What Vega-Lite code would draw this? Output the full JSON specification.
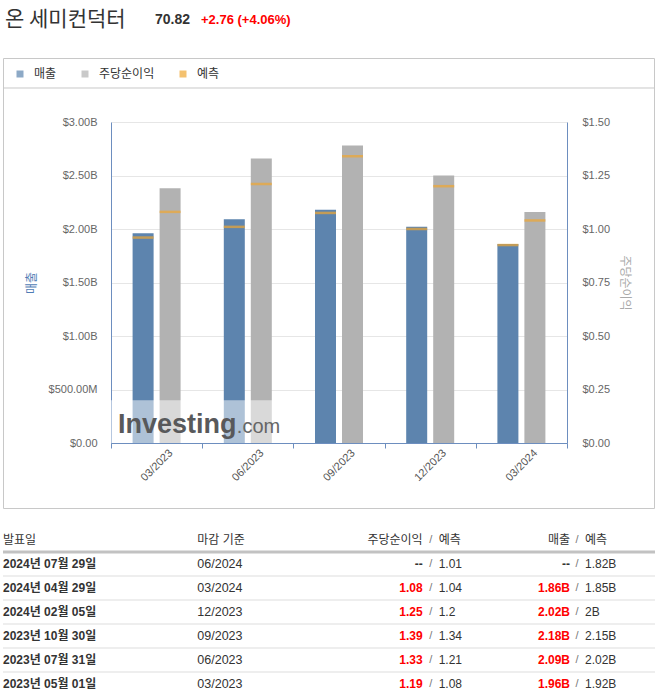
{
  "$schema": "https://vega.github.io/schema/vega-lite/v6.json",
  "padding": {"left": -2, "top": 0, "right": 0, "bottom": 0},
  "spacing": 18,
  "bounds": "flush",
  "config": {
    "view": {"stroke": null},
    "font": "Liberation Sans, Noto Sans CJK KR"
  },
  "resolve": {"legend": {"color": "independent"}, "scale": {"color": "independent"}},
  "datasets": {
    "quote": [{"name": "온 세미컨덕터", "price": "70.82", "change": "+2.76 (+4.06%)"}],
    "quarters": [
      {"period": "03/2023", "series": "매출", "actual": 1960000000, "forecast": 1920000000},
      {"period": "03/2023", "series": "주당순이익", "actual": 1.19, "forecast": 1.08},
      {"period": "06/2023", "series": "매출", "actual": 2090000000, "forecast": 2020000000},
      {"period": "06/2023", "series": "주당순이익", "actual": 1.33, "forecast": 1.21},
      {"period": "09/2023", "series": "매출", "actual": 2180000000, "forecast": 2150000000},
      {"period": "09/2023", "series": "주당순이익", "actual": 1.39, "forecast": 1.34},
      {"period": "12/2023", "series": "매출", "actual": 2020000000, "forecast": 2000000000},
      {"period": "12/2023", "series": "주당순이익", "actual": 1.25, "forecast": 1.2},
      {"period": "03/2024", "series": "매출", "actual": 1860000000, "forecast": 1850000000},
      {"period": "03/2024", "series": "주당순이익", "actual": 1.08, "forecast": 1.04}
    ],
    "earnings": [
      {"date": "2024년 07월 29일", "period": "06/2024", "eps": "--", "eps_est": "1.01", "rev": "--", "rev_est": "1.82B"},
      {"date": "2024년 04월 29일", "period": "03/2024", "eps": "1.08", "eps_est": "1.04", "rev": "1.86B", "rev_est": "1.85B"},
      {"date": "2024년 02월 05일", "period": "12/2023", "eps": "1.25", "eps_est": "1.2", "rev": "2.02B", "rev_est": "2B"},
      {"date": "2023년 10월 30일", "period": "09/2023", "eps": "1.39", "eps_est": "1.34", "rev": "2.18B", "rev_est": "2.15B"},
      {"date": "2023년 07월 31일", "period": "06/2023", "eps": "1.33", "eps_est": "1.21", "rev": "2.09B", "rev_est": "2.02B"},
      {"date": "2023년 05월 01일", "period": "03/2023", "eps": "1.19", "eps_est": "1.08", "rev": "1.96B", "rev_est": "1.92B"}
    ]
  },
  "vconcat": [
    {
      "width": 660,
      "height": 40,
      "data": {"name": "quote"},
      "layer": [
        {
          "mark": {"type": "text", "align": "left", "fontSize": 21, "color": "#333333", "font": "Noto Sans CJK KR"},
          "encoding": {
            "x": {"datum": "name", "type": "nominal", "scale": {"type": "point", "domain": ["name", "price", "change"], "range": [2, 198], "padding": 0}, "axis": null},
            "text": {"field": "name"}
          }
        },
        {
          "mark": {"type": "text", "align": "left", "fontSize": 14, "fontWeight": "bold", "color": "#333333", "dx": 52},
          "encoding": {
            "x": {"datum": "price", "type": "nominal"},
            "text": {"field": "price"}
          }
        },
        {
          "mark": {"type": "text", "align": "left", "fontSize": 13, "fontWeight": "bold", "color": "#ff0000"},
          "encoding": {
            "x": {"datum": "change", "type": "nominal"},
            "text": {"field": "change"}
          }
        }
      ]
    },
    {
      "width": 651,
      "height": 450,
      "view": {"stroke": "#c8c8c8"},
      "data": {"name": "quarters"},
      "layer": [
        {
          "transform": [{"filter": "datum.series === '주당순이익'"}],
          "layer": [
            {
              "mark": {"type": "bar"},
              "encoding": {
                "x": {
                  "field": "period", "type": "nominal",
                  "scale": {"domain": ["03/2023", "06/2023", "09/2023", "12/2023", "03/2024"], "range": [108, 564], "paddingInner": 0, "paddingOuter": 0},
                  "axis": {"orient": "bottom", "offset": -65, "title": null, "labelAngle": -45, "labelAlign": "right", "labelBaseline": "middle", "labelOffset": 14, "labelPadding": 3, "tickBand": "extent", "tickSize": 5, "tickColor": "#6d8ebf", "domainColor": "#6d8ebf", "labelColor": "#555555", "labelFontSize": 11, "grid": false}
                },
                "xOffset": {"field": "series", "type": "nominal", "scale": {"domain": ["매출", "주당순이익"], "paddingInner": 0.222, "paddingOuter": 0.8}},
                "y": {
                  "field": "actual", "type": "quantitative",
                  "scale": {"domain": [0, 1.5], "range": [385, 64], "nice": false},
                  "axis": {"orient": "right", "offset": -87, "title": "주당순이익", "titleAngle": 90, "titleColor": "#aaaaaa", "titleFont": "Noto Sans CJK KR", "titleFontSize": 12, "titleFontWeight": "normal", "titlePadding": 8, "values": [0, 0.25, 0.5, 0.75, 1, 1.25, 1.5], "labelExpr": "'$' + format(datum.value, '.2f')", "ticks": false, "labelPadding": 15, "domainColor": "#6d8ebf", "labelColor": "#666666", "labelFontSize": 11, "grid": false}
                },
                "color": {
                  "field": "series", "type": "nominal",
                  "scale": {"domain": ["매출", "주당순이익", "예측"], "range": ["#5d84ae", "#b2b2b2", "#f0a732"]},
                  "legend": {"orient": "none", "direction": "horizontal", "legendX": 11, "legendY": 10, "title": null, "symbolType": "square", "symbolSize": 49, "symbolStrokeWidth": 0, "labelFontSize": 12, "labelColor": "#333333", "labelFont": "Noto Sans CJK KR", "columnPadding": 22, "labelOffset": 8, "padding": 0}
                }
              }
            },
            {
              "mark": {"type": "tick", "thickness": 2.5, "size": 21},
              "encoding": {
                "x": {"field": "period", "type": "nominal"},
                "xOffset": {"field": "series", "type": "nominal"},
                "y": {"field": "forecast", "type": "quantitative"},
                "color": {"datum": "예측"}
              }
            }
          ]
        },
        {
          "layer": [
            {
              "transform": [{"filter": "datum.series === '매출'"}],
              "mark": {"type": "bar"},
              "encoding": {
                "x": {"field": "period", "type": "nominal"},
                "xOffset": {"field": "series", "type": "nominal"},
                "y": {
                  "field": "actual", "type": "quantitative",
                  "scale": {"domain": [0, 3000000000], "range": [385, 64], "nice": false},
                  "axis": {"orient": "left", "offset": -108, "title": "매출", "titleColor": "#4f7cb5", "titleFont": "Noto Sans CJK KR", "titleFontSize": 12, "titleFontWeight": "normal", "titlePadding": 10, "values": [0, 500000000, 1000000000, 1500000000, 2000000000, 2500000000, 3000000000], "labelExpr": "datum.value >= 1e9 ? '$' + format(datum.value / 1e9, '.2f') + 'B' : datum.value > 0 ? '$' + format(datum.value / 1e6, '.2f') + 'M' : '$0.00'", "ticks": false, "labelPadding": 14, "domainColor": "#6d8ebf", "labelColor": "#666666", "labelFontSize": 11, "grid": true, "gridColor": "#e6e6e6"}
                },
                "color": {"field": "series", "type": "nominal"}
              }
            },
            {
              "transform": [{"filter": "datum.series === '매출'"}],
              "mark": {"type": "tick", "thickness": 2.5, "size": 21},
              "encoding": {
                "x": {"field": "period", "type": "nominal"},
                "xOffset": {"field": "series", "type": "nominal"},
                "y": {"field": "forecast", "type": "quantitative"},
                "color": {"datum": "예측"}
              }
            },
            {
              "data": {"values": [{}]},
              "mark": {"type": "rule", "color": "#c8c8c8", "strokeWidth": 1},
              "encoding": {"y": {"datum": 3317800000, "type": "quantitative"}}
            },
            {
              "data": {"values": [{}]},
              "mark": {"type": "rect", "fill": "#ffffff", "opacity": 0.5},
              "encoding": {
                "x": {"datum": "03/2023", "type": "nominal", "bandPosition": 0},
                "x2": {"datum": "06/2023", "bandPosition": 0.9},
                "y": {"datum": 0, "type": "quantitative"},
                "y2": {"datum": 400000000}
              }
            },
            {
              "data": {"values": [{}]},
              "mark": {"type": "text", "text": "Investing", "align": "left", "baseline": "alphabetic", "fontSize": 27, "fontWeight": "bold", "font": "Liberation Sans", "color": "#58595b"},
              "encoding": {
                "x": {"datum": "03/2023", "type": "nominal", "bandPosition": 0.077},
                "y": {"datum": 93500000, "type": "quantitative"}
              }
            },
            {
              "data": {"values": [{}]},
              "mark": {"type": "text", "text": ".com", "align": "left", "baseline": "alphabetic", "fontSize": 20, "font": "Liberation Sans", "color": "#666666"},
              "encoding": {
                "x": {"datum": "06/2023", "type": "nominal", "bandPosition": 0.38},
                "y": {"datum": 93500000, "type": "quantitative"}
              }
            }
          ]
        }
      ],
      "resolve": {"scale": {"y": "independent"}}
    },
    {
      "width": 652,
      "height": 169,
      "data": {"name": "earnings"},
      "layer": [
        {
          "mark": {"type": "rule", "color": "#dddddd", "strokeWidth": 1},
          "encoding": {
            "y": {
              "field": "date", "type": "nominal", "bandPosition": 0,
              "scale": {"type": "band", "domain": ["header", "2024년 07월 29일", "2024년 04월 29일", "2024년 02월 05일", "2023년 10월 30일", "2023년 07월 31일", "2023년 05월 01일"], "range": [2, 170], "paddingInner": 0, "paddingOuter": 0},
              "axis": null
            }
          }
        },
        {
          "data": {"values": [{}]},
          "mark": {"type": "rule", "color": "#c2c2c2", "strokeWidth": 3},
          "encoding": {"y": {"datum": "header", "type": "nominal", "bandPosition": 1}}
        },
        {
          "mark": {"type": "text", "align": "left", "fontSize": 12, "fontWeight": "bold", "color": "#333333"},
          "encoding": {
            "x": {"datum": "발표일", "type": "nominal", "scale": {"type": "point", "domain": ["발표일", "마감 기준", "주당순이익", "매출"], "range": [0, 574], "padding": 0}, "axis": null},
            "y": {"field": "date", "type": "nominal"},
            "text": {"field": "date"}
          }
        },
        {
          "mark": {"type": "text", "align": "left", "fontSize": 12.5, "color": "#333333", "dx": 3},
          "encoding": {
            "x": {"datum": "마감 기준", "type": "nominal"},
            "y": {"field": "date", "type": "nominal"},
            "text": {"field": "period"}
          }
        },
        {
          "mark": {"type": "text", "align": "right", "fontSize": 12, "fontWeight": "bold", "dx": 37},
          "encoding": {
            "x": {"datum": "주당순이익", "type": "nominal"},
            "y": {"field": "date", "type": "nominal"},
            "text": {"field": "eps"},
            "color": {"condition": {"test": "datum.eps === '--'", "value": "#333333"}, "value": "#ff0000"}
          }
        },
        {
          "mark": {"type": "text", "align": "center", "fontSize": 11, "color": "#777777", "dx": 45, "text": "/"},
          "encoding": {
            "x": {"datum": "주당순이익", "type": "nominal"},
            "y": {"field": "date", "type": "nominal"}
          }
        },
        {
          "mark": {"type": "text", "align": "left", "fontSize": 12, "color": "#333333", "dx": 53},
          "encoding": {
            "x": {"datum": "주당순이익", "type": "nominal"},
            "y": {"field": "date", "type": "nominal"},
            "text": {"field": "eps_est"}
          }
        },
        {
          "mark": {"type": "text", "align": "right", "fontSize": 12, "fontWeight": "bold", "dx": -7},
          "encoding": {
            "x": {"datum": "매출", "type": "nominal"},
            "y": {"field": "date", "type": "nominal"},
            "text": {"field": "rev"},
            "color": {"condition": {"test": "datum.rev === '--'", "value": "#333333"}, "value": "#ff0000"}
          }
        },
        {
          "mark": {"type": "text", "align": "center", "fontSize": 11, "color": "#777777", "dx": 0, "text": "/"},
          "encoding": {
            "x": {"datum": "매출", "type": "nominal"},
            "y": {"field": "date", "type": "nominal"}
          }
        },
        {
          "mark": {"type": "text", "align": "left", "fontSize": 12, "color": "#333333", "dx": 8},
          "encoding": {
            "x": {"datum": "매출", "type": "nominal"},
            "y": {"field": "date", "type": "nominal"},
            "text": {"field": "rev_est"}
          }
        },
        {
          "data": {"values": [{}]},
          "layer": [
            {"mark": {"type": "text", "align": "left", "fontSize": 12, "color": "#333333", "text": "발표일"}, "encoding": {"x": {"datum": "발표일", "type": "nominal"}, "y": {"datum": "header", "type": "nominal"}}},
            {"mark": {"type": "text", "align": "left", "fontSize": 12, "color": "#333333", "dx": 3, "text": "마감 기준"}, "encoding": {"x": {"datum": "마감 기준", "type": "nominal"}, "y": {"datum": "header", "type": "nominal"}}},
            {"mark": {"type": "text", "align": "right", "fontSize": 12, "color": "#333333", "dx": 37, "text": "주당순이익"}, "encoding": {"x": {"datum": "주당순이익", "type": "nominal"}, "y": {"datum": "header", "type": "nominal"}}},
            {"mark": {"type": "text", "align": "center", "fontSize": 11, "color": "#777777", "dx": 45, "text": "/"}, "encoding": {"x": {"datum": "주당순이익", "type": "nominal"}, "y": {"datum": "header", "type": "nominal"}}},
            {"mark": {"type": "text", "align": "left", "fontSize": 12, "color": "#333333", "dx": 53, "text": "예측"}, "encoding": {"x": {"datum": "주당순이익", "type": "nominal"}, "y": {"datum": "header", "type": "nominal"}}},
            {"mark": {"type": "text", "align": "right", "fontSize": 12, "color": "#333333", "dx": -7, "text": "매출"}, "encoding": {"x": {"datum": "매출", "type": "nominal"}, "y": {"datum": "header", "type": "nominal"}}},
            {"mark": {"type": "text", "align": "center", "fontSize": 11, "color": "#777777", "dx": 0, "text": "/"}, "encoding": {"x": {"datum": "매출", "type": "nominal"}, "y": {"datum": "header", "type": "nominal"}}},
            {"mark": {"type": "text", "align": "left", "fontSize": 12, "color": "#333333", "dx": 8, "text": "예측"}, "encoding": {"x": {"datum": "매출", "type": "nominal"}, "y": {"datum": "header", "type": "nominal"}}}
          ]
        }
      ]
    }
  ]
}
